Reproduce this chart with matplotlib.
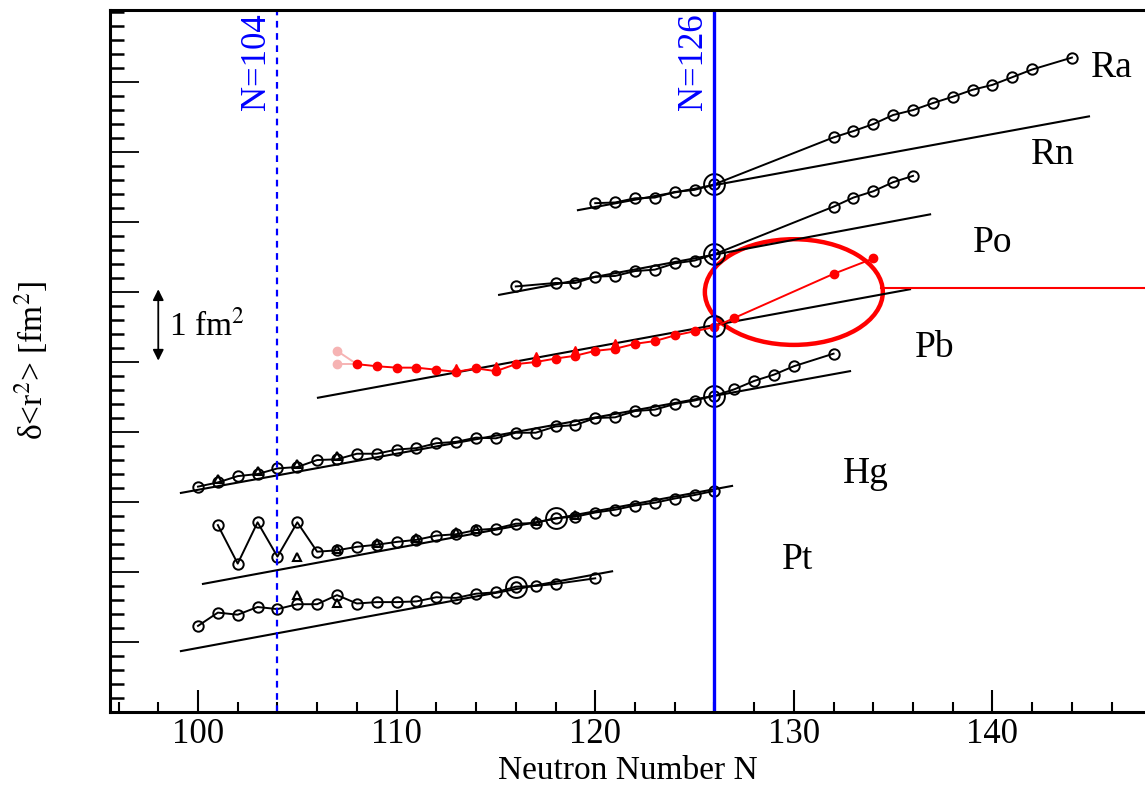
import matplotlib
matplotlib.use('Agg')
from matplotlib import pyplot as plt
from matplotlib.patches import Ellipse
from matplotlib.ticker import MultipleLocator, FixedLocator

plt.rcParams['font.family'] = ['Liberation Serif', 'DejaVu Serif']
plt.rcParams['mathtext.fontset'] = 'stix'

# ---- data (delta <r^2>, arbitrary offsets per isotope chain, 1 unit = 1 fm^2) ----
# Pt
pt_n = [100, 101, 102, 103, 104, 105, 106, 107, 108, 109, 110, 111, 112, 113,
        114, 115, 116, 117, 118, 120]
pt_r = [0.23, 0.42, 0.39, 0.50, 0.47, 0.54, 0.54, 0.67, 0.55, 0.57, 0.57, 0.58,
        0.64, 0.63, 0.69, 0.71, 0.79, 0.80, 0.83, 0.91]
pt_tri_n = [105, 107]
pt_tri_r = [0.67, 0.56]
pt_big = (116, 0.79)
pt_ref_n = [99.14, 120.85]
pt_ref_r = [-0.13, 1.01]

# Hg
hg_n = [101, 102, 103, 104, 105, 106, 107, 108, 109, 110, 111, 112, 113, 114,
        115, 116, 117, 118, 119, 120, 121, 122, 123, 124, 125, 126]
hg_r = [1.67, 1.12, 1.71, 1.22, 1.71, 1.29, 1.31, 1.36, 1.39, 1.43, 1.46, 1.52,
        1.54, 1.60, 1.62, 1.69, 1.70, 1.77, 1.79, 1.85, 1.89, 1.95, 1.99, 2.05,
        2.10, 2.16]
hg_tri_n = [105, 107, 109, 111, 113, 114, 117, 119]
hg_tri_r = [1.22, 1.33, 1.41, 1.48, 1.57, 1.61, 1.73, 1.82]
hg_big = (118, 1.77)
hg_ref_n = [100.25, 126.89]
hg_ref_r = [0.83, 2.23]

# chain below Pb (black)
d_n = [100, 101, 102, 103, 104, 105, 106, 107, 108, 109, 110, 111, 112, 113,
       114, 115, 116, 117, 118, 119, 120, 121, 122, 123, 124, 125, 126, 127,
       128, 129, 130, 132]
d_r = [2.22, 2.28, 2.37, 2.40, 2.48, 2.50, 2.60, 2.61, 2.69, 2.69, 2.75, 2.77,
       2.84, 2.86, 2.92, 2.91, 2.99, 2.99, 3.08, 3.10, 3.20, 3.21, 3.30, 3.32,
       3.40, 3.45, 3.52, 3.61, 3.73, 3.82, 3.94, 4.12]
d_tri_n = [101, 103, 105, 107]
d_tri_r = [2.33, 2.45, 2.55, 2.66]
d_big = (126, 3.52)
d_ref_n = [99.14, 132.83]
d_ref_r = [2.13, 3.87]

# Pb (red, new data)
pb_n = [108, 109, 110, 111, 112, 113, 114, 115, 116, 117, 118, 119, 120, 121,
        122, 123, 124, 125, 126, 127, 132, 134]
pb_r = [3.97, 3.94, 3.92, 3.92, 3.89, 3.86, 3.91, 3.87, 3.97, 4.00, 4.05, 4.09,
        4.16, 4.19, 4.26, 4.30, 4.38, 4.44, 4.50, 4.63, 5.26, 5.48]
pb_tri_n = [113, 115, 117, 119, 121]
pb_tri_r = [3.93, 3.96, 4.10, 4.19, 4.28]
pb_pale_n = [107, 107]
pb_pale_r = [4.16, 3.97]
pb_big = (126, 4.51)
pb_ref_n = [106.04, 135.85]
pb_ref_r = [3.49, 5.04]

# Po
po_n = [116, 118, 119, 120, 121, 122, 123, 124, 125, 126, 132, 133, 134, 135, 136]
po_r = [5.08, 5.13, 5.13, 5.22, 5.23, 5.30, 5.32, 5.41, 5.45, 5.54, 6.22, 6.35,
        6.44, 6.57, 6.66]
po_big = (126, 5.54)
po_ref_n = [115.16, 136.86]
po_ref_r = [4.96, 6.11]

# Rn / Ra
ra_n = [120, 121, 122, 123, 124, 125, 126, 132, 133, 134, 135, 136, 137, 138,
        139, 140, 141, 142, 144]
ra_r = [6.27, 6.28, 6.34, 6.35, 6.43, 6.46, 6.54, 7.21, 7.30, 7.40, 7.53, 7.60,
        7.70, 7.79, 7.89, 7.96, 8.07, 8.18, 8.35]
ra_big = (126, 6.54)
ra_ref_n = [119.13, 144.86]
ra_ref_r = [6.17, 7.51]

labels = ['Ra', 'Rn', 'Po', 'Pb', 'Hg', 'Pt']
label_n = [146.0, 143.05, 140.0, 137.1, 133.6, 130.2]
label_r = [8.2, 6.96, 5.7, 4.2, 2.41, 1.17]

W, H = 1145, 789
fig = plt.figure(figsize=(W / 100, H / 100), dpi=100)
ax = fig.add_axes([110 / W, (H - 711.5) / H, 1 - 110 / W, (711.5 - 10) / H])

blk = dict(color='black', lw=1.4, marker='o', ms=7.5, mfc='none', mec='black', mew=1.4)
ref = dict(color='black', lw=1.5)
tri = dict(ls='none', marker='^', ms=6, mfc='none', mec='black', mew=1.5)

# reference lines
for rn, rr in [(pt_ref_n, pt_ref_r), (hg_ref_n, hg_ref_r), (d_ref_n, d_ref_r),
               (pb_ref_n, pb_ref_r), (po_ref_n, po_ref_r), (ra_ref_n, ra_ref_r)]:
    ax.plot(rn, rr, **ref)

# black chains
for n, r in [(pt_n, pt_r), (hg_n, hg_r), (d_n, d_r), (po_n, po_r), (ra_n, ra_r)]:
    ax.plot(n, r, **blk)
for n, r in [(pt_tri_n, pt_tri_r), (hg_tri_n, hg_tri_r), (d_tri_n, d_tri_r)]:
    ax.plot(n, r, **tri)

# big double circles
for b in [pt_big, hg_big, d_big, po_big, ra_big, pb_big]:
    ax.plot(b[0], b[1], marker='o', ms=15, mfc='none', mec='black', mew=1.4)

# red Pb
pale = '#f6b3b3'
for pn, pr in zip(pb_pale_n, pb_pale_r):
    ax.plot([pn, pb_n[0]], [pr, pb_r[0]], color=pale, lw=1.4, marker='o', ms=6,
            mfc=pale, mec=pale, markevery=[0])
ax.plot(pb_n, pb_r, color='red', lw=1.4, marker='o', ms=6, mfc='red', mec='red')
ax.plot(pb_tri_n, pb_tri_r, ls='none', marker='^', ms=5, mfc='red', mec='red')

# magic numbers
ax.axvline(104, color='blue', lw=1.6, ls=(0, (3, 2.5)))
ax.axvline(126, color='blue', lw=2.4)
ax.text(103.8, 8.98, 'N=104', color='blue', rotation=90, ha='right', va='top', fontsize=25)
ax.text(125.8, 8.98, 'N=126', color='blue', rotation=90, ha='right', va='top', fontsize=25)

# highlight
ax.add_patch(Ellipse((130.0, 5.0), 8.96, 1.51, fill=False, ec='red', lw=3.2))
ax.plot([134.4, 148], [5.06, 5.06], color='red', lw=1.5)

# scale arrow
ax.annotate('', xy=(98.0, 4.02), xytext=(98.0, 5.04),
            arrowprops=dict(arrowstyle='<|-|>', color='black', lw=1.3,
                            mutation_scale=16, shrinkA=0, shrinkB=0))
ax.text(98.55, 4.52, '1 fm$^2$', fontsize=24, va='center', ha='left')

for t, n, r in zip(labels, label_n, label_r):
    ax.text(n, r, t, fontsize=27, ha='center', va='center')

ax.set_xlim(95.57, 147.68)
ax.set_ylim(-0.993, 9.03)

ax.xaxis.set_major_locator(MultipleLocator(10))
ax.xaxis.set_minor_locator(MultipleLocator(2))
ax.yaxis.set_major_locator(FixedLocator(list(range(0, 9))))
ax.yaxis.set_minor_locator(MultipleLocator(0.2))
ax.tick_params(axis='x', which='major', direction='in', length=16, width=1.5,
               labelsize=25, pad=5)
ax.tick_params(axis='x', which='minor', direction='in', length=7, width=1.5)
ax.tick_params(axis='y', which='major', direction='in', length=21, width=1.3,
               labelleft=False)
ax.tick_params(axis='y', which='minor', direction='in', length=10, width=1.8)

for s in ['left', 'bottom', 'top']:
    ax.spines[s].set_linewidth(2.2)
ax.spines['right'].set_visible(False)

ax.set_xlabel('Neutron Number N', fontsize=24, labelpad=3)
ax.set_ylabel('δ<r$^2$> [fm$^2$]', fontsize=24, labelpad=40)

fig.savefig('out.png', dpi=100)
